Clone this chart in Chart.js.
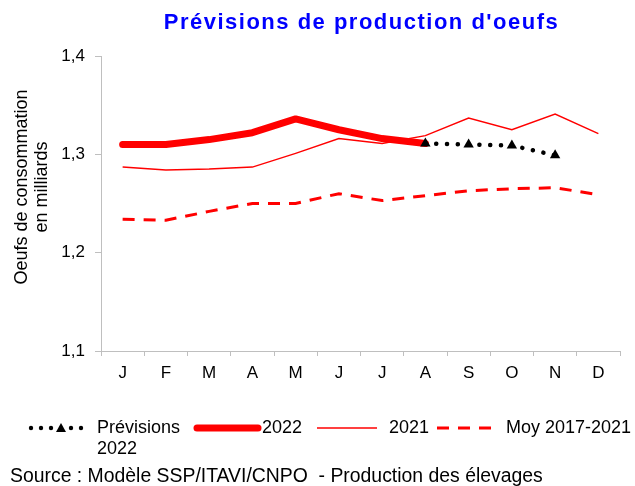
<!DOCTYPE html>
<html>
<head>
<meta charset="utf-8">
<script src="https://cdn.jsdelivr.net/npm/chart.js@4"></script>
<style>
  html, body { margin: 0; padding: 0; background: #fff; }
  #wrap { width: 635px; height: 486px; }
</style>
</head>
<body>
<div id="wrap"><canvas id="chart" width="635" height="486"></canvas></div>
<script>
// Monthly egg production (billions of eggs)
const months = ["J", "F", "M", "A", "M", "J", "J", "A", "S", "O", "N", "D"];
const prev2022 = [null, null, null, null, null, null, null, 1.311, 1.310, 1.309, 1.299, null];
const prod2022 = [1.310, 1.310, 1.315, 1.322, 1.336, 1.325, 1.316, 1.311, null, null, null, null];
const prod2021 = [1.287, 1.284, 1.285, 1.287, 1.301, 1.316, 1.311, 1.319, 1.337, 1.325, 1.341, 1.321];
const moy1721 = [1.234, 1.233, 1.242, 1.250, 1.250, 1.260, 1.253, 1.258, 1.263, 1.265, 1.266, 1.259];
const yMin = 1.1, yMax = 1.4, yStep = 0.1;
const yTitle = ["Oeufs de consommation", "en milliards"];

const FONT = '"Liberation Sans", Arial, sans-serif';

// title, y-axis title, custom legend and source line
const decorations = {
    id: "decorations",
    afterDraw(chart) {
        const ctx = chart.ctx;
        const area = chart.chartArea;
        ctx.save();

        // title
        ctx.font = "bold 22px " + FONT;
        ctx.letterSpacing = "1.5px";
        ctx.fillStyle = "#0000ff";
        ctx.textAlign = "center";
        ctx.textBaseline = "middle";
        ctx.fillText("Prévisions de production d'oeufs", (area.left + area.right) / 2 + 1, 23);
        ctx.letterSpacing = "0px";

        // y-axis title (two rotated lines)
        ctx.fillStyle = "#000";
        ctx.font = "18px " + FONT;
        ctx.save();
        ctx.translate(22, 187);
        ctx.rotate(-Math.PI / 2);
        ctx.fillText(yTitle[0], 0, 0);
        ctx.fillText(yTitle[1], 0, 20);
        ctx.restore();

        // legend
        const ly = 428;
        ctx.textAlign = "left";

        // Prévisions 2022 sample
        [31, 41, 51, 71, 81].forEach(x => {
            ctx.beginPath();
            ctx.arc(x, ly, 2.2, 0, Math.PI * 2);
            ctx.fill();
        });
        ctx.beginPath();
        ctx.moveTo(61, ly - 5);
        ctx.lineTo(66, ly + 4);
        ctx.lineTo(56, ly + 4);
        ctx.closePath();
        ctx.fill();
        ctx.fillText("Prévisions", 97, ly);
        ctx.fillText("2022", 97, ly + 21);

        // 2022 sample
        ctx.strokeStyle = "#ff0000";
        ctx.lineCap = "round";
        ctx.lineWidth = 7;
        ctx.beginPath();
        ctx.moveTo(197, ly);
        ctx.lineTo(258, ly);
        ctx.stroke();
        ctx.fillText("2022", 262, ly);

        // 2021 sample
        ctx.lineCap = "butt";
        ctx.lineWidth = 1.5;
        ctx.beginPath();
        ctx.moveTo(317, ly);
        ctx.lineTo(377, ly);
        ctx.stroke();
        ctx.fillText("2021", 389, ly);

        // Moy sample
        ctx.lineWidth = 3;
        ctx.setLineDash([12, 9]);
        ctx.beginPath();
        ctx.moveTo(437, ly);
        ctx.lineTo(499, ly);
        ctx.stroke();
        ctx.setLineDash([]);
        ctx.fillText("Moy 2017-2021", 506, ly);

        // source
        ctx.font = "19.4px " + FONT;
        ctx.fillText("Source : Modèle SSP/ITAVI/CNPO  - Production des élevages", 10, 477);

        ctx.restore();
    }
};

const ctx = document.getElementById("chart").getContext("2d");

new Chart(ctx, {
    type: "line",
    data: {
        labels: months,
        datasets: [
            {
                label: "Prévisions 2022",
                data: prev2022,
                borderColor: "#000",
                backgroundColor: "#000",
                borderWidth: 4.5,
                borderCapStyle: "round",
                borderDash: [0.1, 10.7],
                pointStyle: "triangle",
                pointRadius: 6,
                pointBackgroundColor: "#000",
                pointBorderWidth: 0,
                spanGaps: false,
                order: 0
            },
            {
                label: "2022",
                data: prod2022,
                borderColor: "#ff0000",
                borderWidth: 7,
                borderCapStyle: "round",
                borderJoinStyle: "round",
                pointRadius: 0,
                order: 1
            },
            {
                label: "2021",
                data: prod2021,
                borderColor: "#ff0000",
                borderWidth: 1.5,
                pointRadius: 0,
                order: 2
            },
            {
                label: "Moy 2017-2021",
                data: moy1721,
                borderColor: "#ff0000",
                borderWidth: 3,
                borderDash: [12, 9],
                pointRadius: 0,
                order: 3
            }
        ]
    },
    options: {
        responsive: false,
        animation: false,
        devicePixelRatio: 1,
        layout: { padding: { top: 56, right: 15, bottom: 100, left: 0 } },
        plugins: {
            legend: { display: false },
            title: { display: false },
            tooltip: { enabled: false }
        },
        scales: {
            x: {
                offset: true,
                grid: { offset: true, drawOnChartArea: false, tickLength: 5, color: "#bfbfbf" },
                border: { color: "#bfbfbf" },
                ticks: { color: "#000", font: { family: FONT, size: 17 }, padding: 7, maxRotation: 0 },
                afterFit(scale) { scale.height = 35; }
            },
            y: {
                min: yMin,
                max: yMax,
                grid: { drawOnChartArea: false, tickLength: 6, color: "#bfbfbf" },
                border: { color: "#bfbfbf" },
                ticks: {
                    stepSize: yStep,
                    color: "#000",
                    font: { family: FONT, size: 17 },
                    padding: 10,
                    callback: v => v.toFixed(1).replace(".", ",")
                },
                afterFit(scale) { scale.width = 101; }
            }
        }
    },
    plugins: [decorations]
});
</script>
</body>
</html>
